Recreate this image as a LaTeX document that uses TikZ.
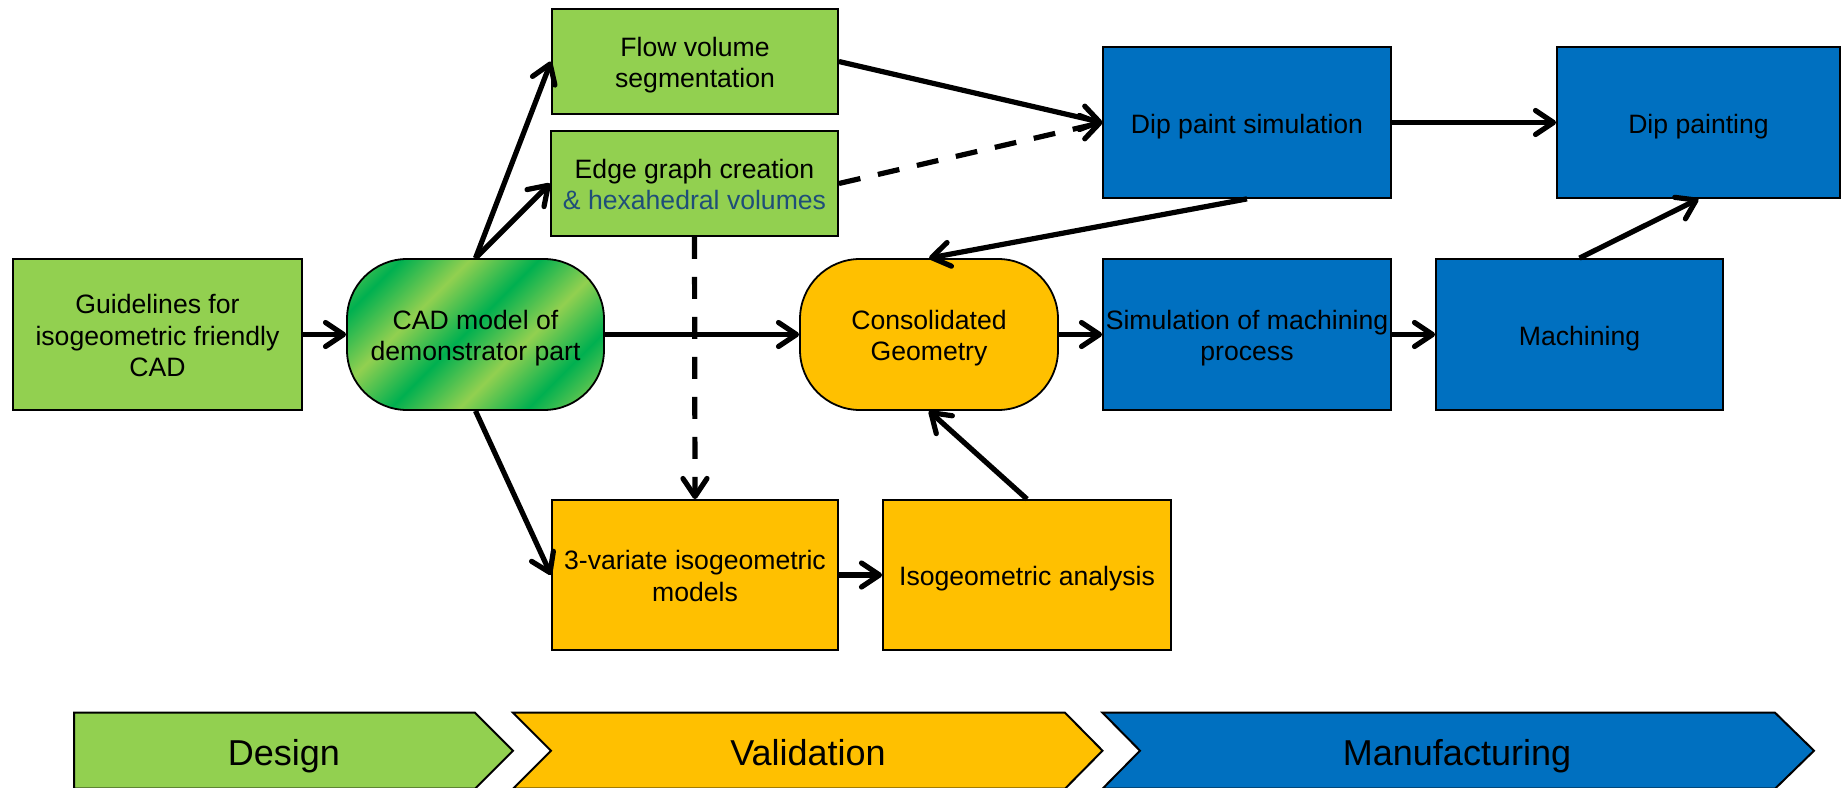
\documentclass[tikz,border=0pt]{standalone}
\usepackage{fontspec}
\setmainfont{Liberation Sans}
\usetikzlibrary{arrows.meta}

\definecolor{lgreen}{HTML}{92D050}
\definecolor{dgreen}{HTML}{00B050}
\definecolor{amber}{HTML}{FFC000}
\definecolor{procblue}{HTML}{0070C0}
\definecolor{navytext}{HTML}{1F4E79}

% diagonal green stripes for the CAD model node
\pgfdeclarehorizontalshading{cadstripes}{100bp}{%
  color(0bp)=(dgreen); color(12bp)=(lgreen); color(24bp)=(dgreen);
  color(36bp)=(lgreen); color(48bp)=(dgreen); color(60bp)=(lgreen);
  color(72bp)=(dgreen); color(84bp)=(lgreen); color(96bp)=(dgreen);
  color(100bp)=(dgreen)}

\newcommand\diagboxfont{\fontsize{13.3pt}{15.8pt}\selectfont}
\newcommand\diagphasefont{\fontsize{18pt}{21pt}\selectfont}
% struts giving the box texts a line box like the one of the slide font
\newcommand\topstrut{\rule{0pt}{13.4pt}}
\newcommand\botstrut{\rule[-2.9pt]{0pt}{2.9pt}}

\tikzset{
  box/.style={draw=black, line width=0.9pt, inner sep=0pt, align=center,
    font=\diagboxfont},
  greenbox/.style={box, fill=lgreen},
  amberbox/.style={box, fill=amber},
  bluebox/.style={box, fill=procblue},
  pill/.style={rounded corners=30pt},
  conn/.style={line width=2.6pt,
    -{Straight Barb[length=9pt,width=12pt,round]}},
  dashconn/.style={conn, dash pattern=on 11pt off 9pt},
  phase/.style={draw=black, line width=1pt, line join=miter},
  phaselabel/.style={font=\diagphasefont, anchor=base, inner sep=0pt}
}

\begin{document}
\begin{tikzpicture}[x=0.5pt, y=-0.5pt]
\useasboundingbox (0,0) rectangle (1841,787);

% process steps
\node[greenbox, minimum width=144.5pt, minimum height=75.5pt] (guide) at (157.5,334.5)
  {\topstrut Guidelines for\\isogeometric friendly\\CAD\botstrut};
\node[box, pill, shade, shading=cadstripes, shading angle=-45,
  minimum width=128.5pt, minimum height=75.5pt] (cad) at (475.5,334.5)
  {\topstrut CAD model of\\demonstrator part\botstrut};
\node[greenbox, minimum width=143pt, minimum height=52.5pt] (flow) at (695,61.5)
  {\topstrut Flow volume\\segmentation\botstrut};
\node[greenbox, minimum width=143.5pt, minimum height=52.5pt] (edge) at (694.5,183.5)
  {\topstrut Edge graph creation\\\textcolor{navytext}{\& hexahedral volumes}\botstrut};
\node[bluebox, minimum width=144pt, minimum height=75.5pt] (dipsim) at (1247,122.5)
  {\topstrut Dip paint simulation\botstrut};
\node[bluebox, minimum width=141.5pt, minimum height=75.5pt] (dippaint) at (1698.5,122.5)
  {\topstrut Dip painting\botstrut};
\node[amberbox, pill, minimum width=129pt, minimum height=75.5pt] (consol) at (929,334.5)
  {\topstrut Consolidated\\Geometry\botstrut};
\node[bluebox, minimum width=144pt, minimum height=75.5pt] (simmach) at (1247,334.5)
  {\topstrut Simulation of machining\\process\botstrut};
\node[bluebox, minimum width=143.5pt, minimum height=75.5pt] (mach) at (1579.5,334.5)
  {\topstrut Machining\botstrut};
\node[amberbox, minimum width=143pt, minimum height=75pt] (trivar) at (695,575)
  {\topstrut 3-variate isogeometric\\models\botstrut};
\node[amberbox, minimum width=144pt, minimum height=75pt] (iso) at (1027,575)
  {\topstrut Isogeometric analysis\botstrut};

% connectors
\draw[conn] (guide.east) -- (cad.west);
\draw[conn] (cad.north) -- (flow.west);
\draw[conn] (cad.north) -- (edge.west);
\draw[conn] (cad.south) -- (trivar.west);
\draw[conn] (cad.east) -- (consol.west);
\draw[conn] (consol.east) -- (simmach.west);
\draw[conn] (simmach.east) -- (mach.west);
\draw[conn] (mach.north) -- (dippaint.south);
\draw[conn] (dipsim.east) -- (dippaint.west);
\draw[conn] (flow.east) -- (dipsim.west);
\draw[dashconn] (edge.east) -- (dipsim.west);
\draw[conn] (dipsim.south) -- (consol.north);
\draw[conn] (iso.north) -- (consol.south);
\draw[conn] (trivar.east) -- (iso.west);
\draw[dashconn] (edge.south) -- (trivar.north);

% project phases
\draw[phase, fill=lgreen] (74,712.7) -- (475,712.7) -- (513,750.7)
  -- (475,788.7) -- (74,788.7) -- cycle;
\draw[phase, fill=amber] (513,712.7) -- (1065,712.7) -- (1102.5,750.7)
  -- (1065,788.7) -- (513,788.7) -- (551,750.7) -- cycle;
\draw[phase, fill=procblue] (1102.5,712.7) -- (1775,712.7) -- (1814,750.7)
  -- (1775,788.7) -- (1102.5,788.7) -- (1140,750.7) -- cycle;
\node[phaselabel] (design) at (284,765) {Design};
\node[phaselabel] (valid) at (808,765) {Validation};
\node[phaselabel] (manuf) at (1457,765) {Manufacturing};
\end{tikzpicture}
\end{document}
